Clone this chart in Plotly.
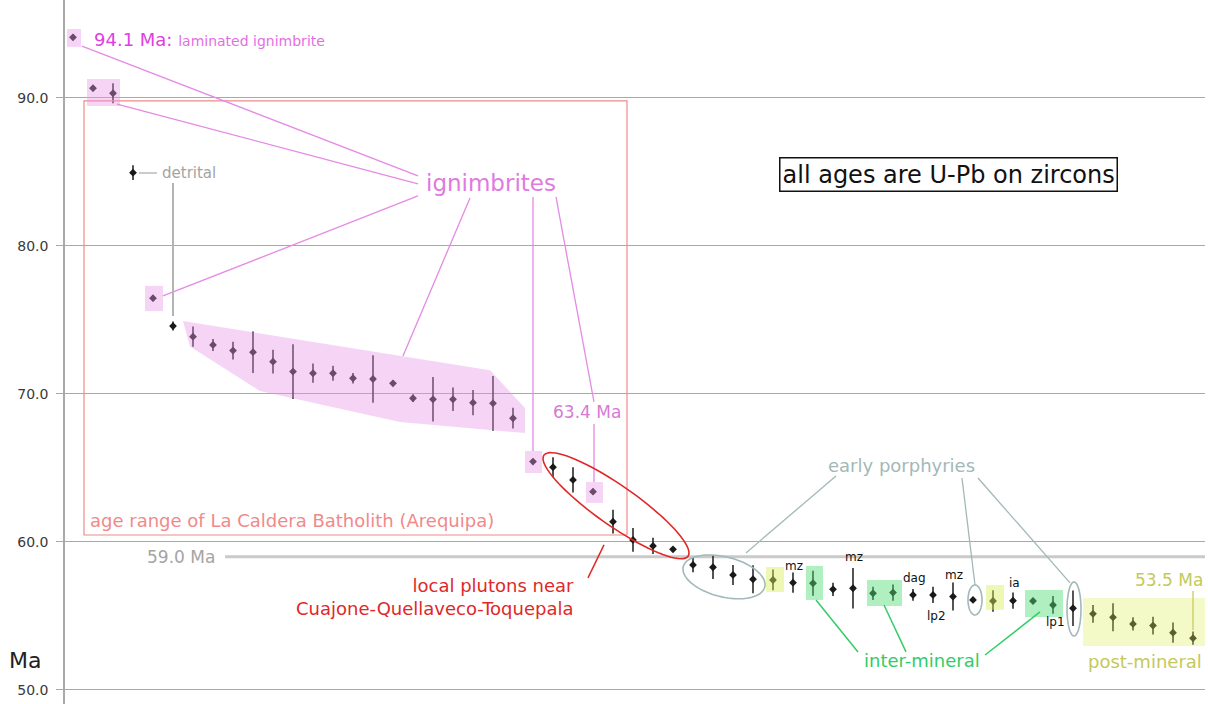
import numpy as np
import plotly.graph_objects as go

# ---------------- data ----------------
sample_no = list(range(57))
age_ma = [94.1, 90.66, 90.32, 84.95, 76.47, 74.59, 73.87, 73.31, 72.93, 72.82,
          72.18, 71.51, 71.40, 71.40, 71.06, 71.01, 70.72, 69.71, 69.64, 69.64,
          69.41, 69.37, 68.36, 65.43, 65.05, 64.19, 63.4, 61.37, 60.14, 59.73,
          59.50, 58.45, 58.29, 57.77, 57.48, 57.43, 57.25, 57.21, 56.80, 56.87,
          56.53, 56.58, 56.42, 56.42, 56.31, 56.08, 56.01, 56.03, 56.01, 55.74,
          55.52, 55.14, 54.91, 54.46, 54.35, 53.87, 53.5]
err_ma = [0.2, 0.2, 0.68, 0.5, 0.2, 0.3, 0.68, 0.4, 0.6, 1.4,
          0.8, 1.85, 0.65, 0.5, 0.35, 1.6, 0.2, 0.25, 1.5, 0.8,
          0.85, 1.85, 0.7, 0.2, 0.68, 0.85, 0.2, 0.8, 0.8, 0.55,
          0.15, 0.5, 0.8, 0.68, 0.95, 0.7, 0.68, 0.85, 0.45, 1.37,
          0.45, 0.55, 0.4, 0.55, 0.95, 0.15, 0.73, 0.55, 0.15, 0.6,
          1.2, 0.6, 0.95, 0.45, 0.6, 0.68, 0.45]
y_ticks = [50.0, 60.0, 70.0, 80.0, 90.0]
y_tick_labels = ["50.0", "60.0", "70.0", "80.0", "90.0"]
reference_age = 59.0

# ---------------- layout constants ----------------
X_RANGE = [-0.4, 56.6]
Y_RANGE = [49.05, 96.62]
PX_X = 20.0     # pixels per sample
PX_Y = 14.8     # pixels per Ma
FONT = "DejaVu Sans"

PINK_FILL = "rgba(230,147,230,0.40)"
PINK_LINE = "#e58ae5"
GREEN_FILL = "rgba(80,222,115,0.45)"
GREEN = "#33cc66"
YELLOW_FILL = "rgba(218,240,89,0.45)"
YELLOW_FILL2 = "rgba(218,240,89,0.33)"
YELLOW_TXT = "#c4c95a"
GRAYBLUE = "#a3b8b8"
RED = "#e02828"
SALMON = "#f08a8a"

fig = go.Figure()

fig.add_trace(go.Scatter(
    x=sample_no, y=age_ma, mode="markers",
    marker=dict(symbol="diamond", size=6, color="#1a1a1a"),
    error_y=dict(type="data", array=err_ma, visible=True,
                 color="#2a2a2a", thickness=1.6, width=0),
    hoverinfo="x+y", showlegend=False))

shapes = []


def rect(x0, x1, y0, y1, fill):
    shapes.append(dict(type="rect", xref="x", yref="y", x0=x0, x1=x1, y0=y0, y1=y1,
                       fillcolor=fill, line=dict(width=0), layer="above"))


def seg(x0, y0, x1, y1, color, width=1.3, layer="above"):
    shapes.append(dict(type="line", xref="x", yref="y", x0=x0, y0=y0, x1=x1, y1=y1,
                       line=dict(color=color, width=width), layer=layer))


def ellipse(cx, cy, a_px, b_px, ang_deg, color, width=1.6):
    t = np.linspace(0, 2 * np.pi, 80)
    th = np.radians(ang_deg)
    dx = a_px * np.cos(t) * np.cos(th) - b_px * np.sin(t) * np.sin(th)
    dy = a_px * np.cos(t) * np.sin(th) + b_px * np.sin(t) * np.cos(th)
    xs = cx + dx / PX_X
    ys = cy - dy / PX_Y
    path = "M " + " L ".join(f"{a:.4f},{b:.4f}" for a, b in zip(xs, ys)) + " Z"
    shapes.append(dict(type="path", xref="x", yref="y", path=path,
                       line=dict(color=color, width=width), layer="above"))


# reference 59 Ma line
seg(7.6, reference_age, 56.6, reference_age, "#cacaca", width=3.2, layer="below")

# La Caldera batholith box
shapes.append(dict(type="rect", xref="x", yref="y", x0=0.55, x1=27.7, y0=60.47, y1=89.8,
                   line=dict(color=SALMON, width=1.2), layer="above"))

# pink ignimbrite shading
rect(-0.3, 0.4, 93.45, 94.66, PINK_FILL)
rect(0.7, 2.35, 89.46, 91.28, PINK_FILL)
rect(3.6, 4.5, 75.6, 77.3, PINK_FILL)
rect(22.6, 23.45, 64.66, 66.15, PINK_FILL)
rect(25.65, 26.5, 62.64, 64.05, PINK_FILL)
poly = [(5.5, 74.93), (20.85, 71.6), (22.6, 69.05), (22.6, 67.36),
        (16.35, 68.1), (9.35, 70.2), (5.85, 73.2)]
shapes.append(dict(type="path", xref="x", yref="y",
                   path="M " + " L ".join(f"{a},{b}" for a, b in poly) + " Z",
                   fillcolor=PINK_FILL, line=dict(width=0), layer="above"))

# pink callout lines
seg(0.45, 93.51, 17.25, 84.73, PINK_LINE)
seg(2.2, 89.59, 17.25, 84.19, PINK_LINE)
seg(4.5, 76.62, 17.25, 83.38, PINK_LINE)
seg(16.5, 72.57, 19.85, 83.24, PINK_LINE)
seg(23.0, 66.15, 23.0, 83.31, PINK_LINE)
seg(24.15, 83.31, 26.05, 69.46, PINK_LINE)
seg(26.05, 67.97, 26.05, 64.05, PINK_LINE)

# detrital connectors
seg(3.3, 84.93, 4.2, 84.93, "#a8a8a8", width=1.2)
seg(5.0, 84.26, 5.0, 75.27, "#b4b4b4", width=2.0)

# local plutons
ellipse(27.15, 62.45, 88, 20, 35, RED)
seg(26.55, 59.8, 25.75, 57.57, RED, width=1.5)

# early porphyries
ellipse(32.55, 57.64, 42, 20, 14, GRAYBLUE)
ellipse(45.1, 56.08, 7, 15, 0, GRAYBLUE)
ellipse(50.05, 55.47, 7, 27, 0, GRAYBLUE)
seg(38.15, 64.46, 33.65, 59.26, GRAYBLUE)
seg(44.45, 64.32, 45.1, 57.09, GRAYBLUE)
seg(45.25, 64.32, 49.85, 57.23, GRAYBLUE)

# yellow (post-mineral) shading
rect(34.65, 35.55, 56.62, 58.31, YELLOW_FILL)
rect(45.65, 46.55, 55.41, 57.09, YELLOW_FILL)
rect(50.5, 56.6, 52.97, 56.22, YELLOW_FILL2)
seg(56.0, 56.69, 56.0, 54.05, "#c8cc60", width=1.3)

# green (inter-mineral) shading
rect(36.65, 37.5, 56.08, 58.38, GREEN_FILL)
rect(39.7, 41.45, 55.68, 57.43, GREEN_FILL)
rect(47.6, 49.5, 54.93, 56.76, GREEN_FILL)
seg(37.15, 56.08, 39.25, 52.57, GREEN, width=1.5)
seg(40.55, 55.74, 41.65, 52.57, GREEN, width=1.5)
seg(48.35, 55.27, 45.6, 52.36, GREEN, width=1.5)

annotations = []


def txt(x, y, text, size, color, xanchor="center", xref="x", font=FONT, **kw):
    annotations.append(dict(x=x, y=y, xref=xref, yref="y", text=text, showarrow=False,
                            xanchor=xanchor, yanchor="middle",
                            font=dict(family=font, size=size, color=color), **kw))


txt(0.95, 93.92, "<span style='color:#e040e0'>94.1 Ma:</span> "
    "<span style='font-size:14px'>laminated ignimbrite</span>", 18, "#e46ee4", xanchor="left")
txt(20.9, 84.26, "ignimbrites", 23, "#e07ae0")
txt(25.7, 68.78, "63.4 Ma", 17, "#d67ad6")
txt(0.75, 61.42, "age range of La Caldera Batholith (Arequipa)", 18, SALMON, xanchor="left")
txt(4.35, 84.93, "detrital", 15, "#a4a4a4", xanchor="left")
txt(7.2, reference_age, "59.0 Ma", 17, "#a4a4a4", xanchor="right")
txt(25.15, 56.3, "local plutons near<br>Cuajone-Quellaveco-Toquepala", 18, RED,
    xanchor="right", align="right")
txt(41.4, 65.14, "early porphyries", 18, GRAYBLUE)
txt(42.45, 51.96, "inter-mineral", 18, GREEN)
txt(53.6, 51.89, "post-mineral", 18, YELLOW_TXT)
txt(54.8, 57.43, "53.5 Ma", 17, YELLOW_TXT)
txt(43.75, 84.8, "all ages are U-Pb on zircons", 24, "#111111",
    bordercolor="#111111", borderwidth=1.5, borderpad=2, bgcolor="white")
for (sx, sy, s) in [(36.05, 58.38, "mz"), (39.05, 58.99, "mz"), (42.05, 57.57, "dag"),
                    (43.15, 55.0, "lp2"), (44.05, 57.77, "mz"), (47.05, 57.23, "ia"),
                    (49.1, 54.59, "lp1")]:
    txt(sx, sy, s, 12, "#111111")
txt(-0.035, 51.96, "Ma", 22, "#222222", xref="paper")

fig.update_layout(
    width=1208, height=704,
    margin=dict(l=65, r=3, t=0, b=0),
    paper_bgcolor="white", plot_bgcolor="white",
    shapes=shapes, annotations=annotations,
    xaxis=dict(range=X_RANGE, visible=False, showgrid=False, zeroline=False),
    yaxis=dict(range=Y_RANGE, tickvals=y_ticks, ticktext=y_tick_labels,
               showgrid=True, gridcolor="#a8a8a8", gridwidth=1.3,
               showline=True, linecolor="#a8a8a8", linewidth=1.5,
               ticks="outside", ticklen=7, tickcolor="#a8a8a8", tickwidth=1.3,
               ticklabelstandoff=5,
               tickfont=dict(family="DejaVu Sans", size=14, color="#3a3a3a"),
               zeroline=False),
)

fig.write_html("out.html")
